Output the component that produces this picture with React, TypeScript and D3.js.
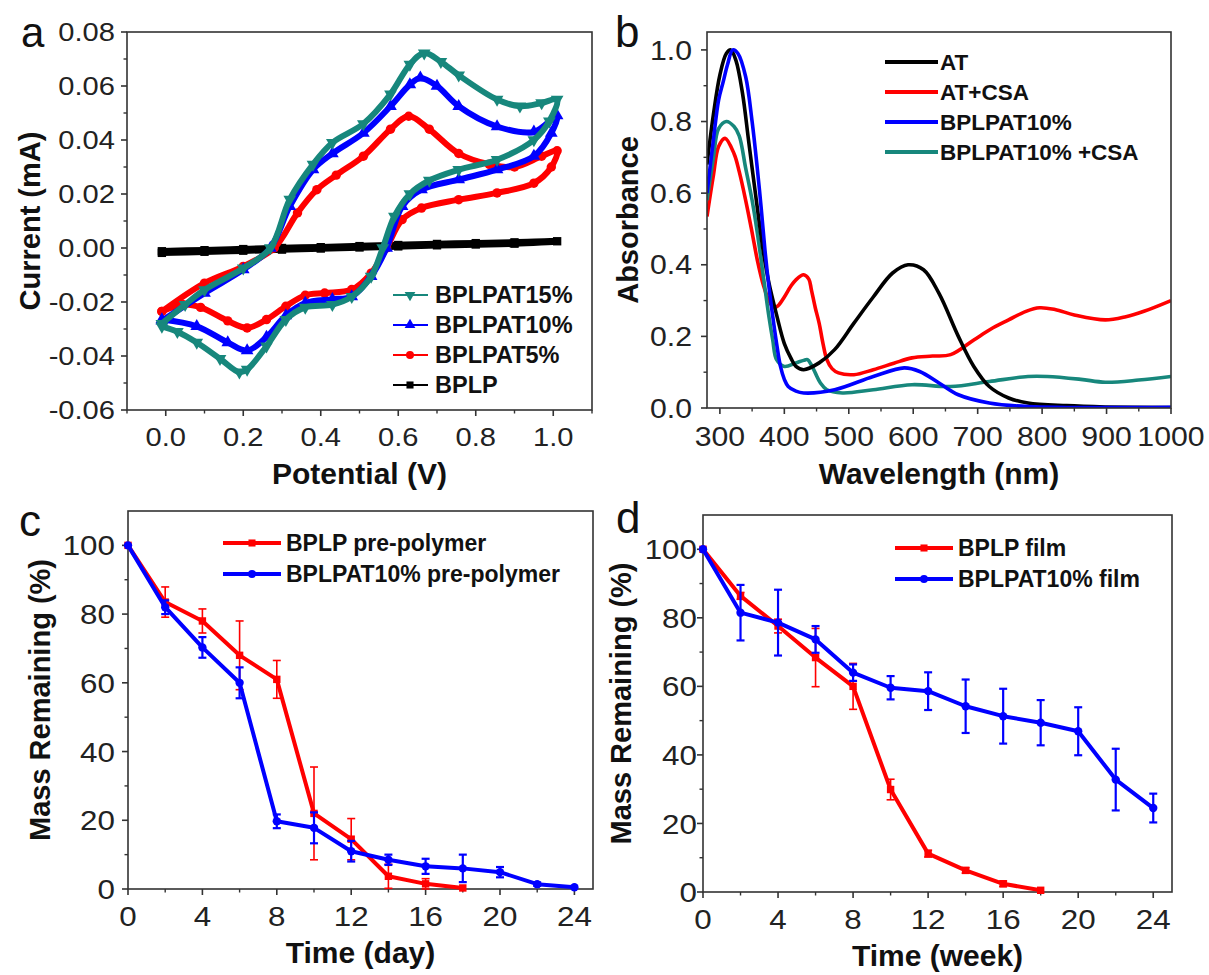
import * as d3 from "d3";

const FONT = "Arial, 'Liberation Sans', Helvetica, sans-serif";
const TEAL = "#17877c";
const BLUE = "#0000ff";
const RED = "#ff0000";

type Pt = [number, number];

// ---- panel a: cyclic voltammetry (forward scan then reverse scan)
const cvNames = ["BPLPAT15%", "BPLPAT10%", "BPLPAT5%", "BPLP"];
const cv15: Pt[] = [
  [-0.01, -0.028], [0.05, -0.021], [0.1, -0.0155], [0.2, -0.0075], [0.27, 0], [0.32, 0.018],
  [0.38, 0.031], [0.43, 0.039], [0.51, 0.046], [0.58, 0.057], [0.63, 0.068], [0.667, 0.0722],
  [0.71, 0.069], [0.756, 0.064], [0.855, 0.055], [0.914, 0.0525], [0.97, 0.0537], [1.01, 0.055],
  [0.99, 0.047], [0.95, 0.04], [0.855, 0.0327], [0.756, 0.029], [0.68, 0.025], [0.63, 0.02],
  [0.59, 0.0117], [0.56, 0], [0.53, -0.0105], [0.48, -0.018], [0.43, -0.021], [0.36, -0.022],
  [0.31, -0.0265], [0.26, -0.0364], [0.21, -0.045], [0.19, -0.046], [0.14, -0.041], [0.08, -0.035],
  [0.03, -0.031], [-0.01, -0.029],
];
const cv10: Pt[] = [
  [-0.01, -0.027], [0.1, -0.0167], [0.2, -0.008], [0.27, 0], [0.32, 0.0154], [0.38, 0.029],
  [0.43, 0.035], [0.51, 0.0426], [0.58, 0.0525], [0.63, 0.0605], [0.657, 0.063], [0.7, 0.06],
  [0.756, 0.0525], [0.855, 0.045], [0.95, 0.043], [1.01, 0.049],
  [0.995, 0.0426], [0.95, 0.034], [0.855, 0.029], [0.756, 0.0253], [0.66, 0.0216], [0.61, 0.0154],
  [0.57, 0], [0.53, -0.0105], [0.48, -0.018], [0.43, -0.019], [0.36, -0.0204], [0.31, -0.025],
  [0.26, -0.033], [0.21, -0.038], [0.16, -0.035], [0.08, -0.029], [-0.01, -0.0265],
];
const cv5: Pt[] = [
  [-0.01, -0.0235], [0.1, -0.013], [0.2, -0.0068], [0.28, 0], [0.34, 0.013], [0.39, 0.0216],
  [0.44, 0.027], [0.51, 0.034], [0.58, 0.044], [0.627, 0.0488], [0.68, 0.044], [0.756, 0.035],
  [0.835, 0.031], [0.9, 0.03], [0.97, 0.034], [1.01, 0.036],
  [0.995, 0.03], [0.95, 0.024], [0.855, 0.0204], [0.756, 0.0179], [0.66, 0.0148], [0.61, 0.0105],
  [0.57, 0], [0.53, -0.0093], [0.48, -0.0154], [0.41, -0.0167], [0.36, -0.0175], [0.31, -0.0216],
  [0.26, -0.0265], [0.21, -0.0296], [0.16, -0.027], [0.09, -0.022], [0.045, -0.021], [-0.01, -0.0235],
];
const cvBplp: Pt[] = [
  [-0.01, -0.0012], [0.1, -0.0008], [0.2, -0.0004], [0.3, 0], [0.4, 0.0003], [0.5, 0.0007],
  [0.6, 0.0011], [0.7, 0.0015], [0.8, 0.0018], [0.9, 0.0021], [1.01, 0.0025],
  [0.9, 0.0016], [0.8, 0.0013], [0.7, 0.001], [0.6, 0.0006], [0.5, 0.0002], [0.4, -0.0002],
  [0.3, -0.0006], [0.2, -0.001], [0.1, -0.0014], [-0.01, -0.0018],
];

// ---- panel b: UV-vis absorbance
const uvNames = ["AT", "AT+CSA", "BPLPAT10%", "BPLPAT10% +CSA"];
const uvAT: Pt[] = [
  [280, 0.68], [290, 0.82], [300, 0.93], [310, 0.99], [317, 1.0], [325, 0.97], [335, 0.88],
  [345, 0.74], [358, 0.56], [368, 0.43], [376, 0.35], [388, 0.26], [400, 0.18], [410, 0.14],
  [418, 0.116], [430, 0.107], [454, 0.126], [478, 0.163], [508, 0.237], [538, 0.31], [568, 0.377],
  [592, 0.4], [616, 0.386], [640, 0.32], [670, 0.2], [694, 0.116], [718, 0.06], [748, 0.028],
  [778, 0.014], [838, 0.0065], [898, 0.003], [1000, 0.001],
];
const uvATCSA: Pt[] = [
  [280, 0.535], [290, 0.65], [298, 0.73], [308, 0.753], [322, 0.71], [330, 0.66], [340, 0.58],
  [350, 0.49], [358, 0.414], [368, 0.34], [376, 0.3], [384, 0.28], [390, 0.285], [400, 0.31],
  [410, 0.34], [418, 0.358], [430, 0.372], [438, 0.36], [442, 0.33], [448, 0.28], [454, 0.237],
  [460, 0.18], [466, 0.135], [474, 0.11], [484, 0.098], [508, 0.093], [538, 0.107], [570, 0.125],
  [598, 0.14], [630, 0.145], [658, 0.149], [694, 0.19], [720, 0.22], [748, 0.246], [775, 0.27],
  [796, 0.28], [820, 0.275], [850, 0.26], [898, 0.246], [930, 0.255], [958, 0.27], [1000, 0.3],
];
const uvBPLPAT: Pt[] = [
  [280, 0.6], [290, 0.75], [298, 0.86], [305, 0.91], [312, 0.96], [320, 1.0], [328, 0.99],
  [340, 0.925], [350, 0.8], [358, 0.67], [364, 0.56], [370, 0.44], [376, 0.34], [382, 0.256],
  [388, 0.18], [394, 0.116], [400, 0.08], [406, 0.06], [418, 0.047], [430, 0.042], [478, 0.051],
  [538, 0.088], [586, 0.112], [610, 0.102], [640, 0.07], [670, 0.037], [718, 0.014], [778, 0.004],
  [1000, 0.002],
];
const uvBPLPATCSA: Pt[] = [
  [280, 0.58], [290, 0.7], [298, 0.78], [310, 0.8], [322, 0.786], [330, 0.76], [340, 0.67],
  [350, 0.58], [358, 0.49], [368, 0.36], [376, 0.256], [382, 0.19], [388, 0.135], [400, 0.116],
  [418, 0.126], [430, 0.133], [436, 0.135], [442, 0.12], [448, 0.098], [456, 0.07], [466, 0.051],
  [490, 0.042], [538, 0.051], [598, 0.065], [658, 0.06], [718, 0.074], [778, 0.088], [808, 0.088],
  [860, 0.08], [898, 0.072], [950, 0.078], [1000, 0.088],
];

// ---- panel c: pre-polymer degradation (days)
const dayTimes = [0, 2, 4, 6, 8, 10, 12, 14, 16, 18, 20, 22, 24];
const preBplp = [100, 83.5, 78, 68, 61, 22, 14.5, 3.7, 1.5, 0.3];
const preBplpErr = [0, 4.4, 3.5, 10, 5.5, 13.5, 6, 3.5, 1.5, 0];
const preAT = [100, 82, 70.3, 60, 19.7, 17.8, 11, 8.5, 6.6, 6, 4.9, 1.4, 0.5];
const preATErr = [0, 2, 3, 4.5, 2, 4.5, 3, 1.5, 2.2, 4, 1.5, 0.5, 0];

// ---- panel d: film degradation (weeks)
const weekTimes = [0, 2, 4, 6, 8, 10, 12, 14, 16, 18, 20, 22, 24];
const filmBplp = [100, 86.4, 77.6, 68.4, 60, 29.9, 11.2, 6.3, 2.4, 0.5];
const filmBplpErr = [0, 1, 2, 8.5, 6.7, 3, 1, 0.8, 0.8, 0];
const filmAT = [100, 81.5, 78.6, 73.7, 64, 59.6, 58.6, 54.2, 51.3, 49.4, 46.9, 32.8, 24.5];
const filmATErr = [0, 8.1, 9.6, 3.9, 2.4, 3.4, 5.5, 7.8, 8, 6.6, 7, 9, 4.2];

const massNames = ["BPLP pre-polymer", "BPLPAT10% pre-polymer"];
const filmNames = ["BPLP film", "BPLPAT10% film"];

const fmtSigned = (d: number) => (d < 0 ? "-" : "") + Math.abs(d).toFixed(2);

type AxesProps = {
  xs: d3.ScaleLinear<number, number>;
  ys: d3.ScaleLinear<number, number>;
  xTicks: number[];
  xMinor: number[];
  yTicks: number[];
  yMinor: number[];
  fx: (d: number) => string;
  fy: (d: number) => string;
  fs: number;
  xLabY: number;
  yLabX: number;
  xTitle: string;
  yTitle: string;
  xTitleY: number;
  yTitleX: number;
};

// tick labels in the figure are drawn a little wider than plain Arial
const SX = 1.12;

function Axes(p: AxesProps) {
  const [x0, x1] = p.xs.range();
  const [yb, yt] = p.ys.range();
  const stroke = "#333";
  return (
    <g fontFamily={FONT}>
      <rect x={x0} y={yt} width={x1 - x0} height={yb - yt} fill="none" stroke={stroke} strokeWidth={1.6} />
      {p.xTicks.map((t) => (
        <g key={"xt" + t}>
          <line x1={p.xs(t)} x2={p.xs(t)} y1={yb} y2={yb + 6} stroke={stroke} strokeWidth={1.6} />
          <text
            transform={`translate(${p.xs(t)},${p.xLabY}) scale(${SX},1)`}
            textAnchor="middle"
            fontSize={p.fs}
            fill="#222"
          >
            {p.fx(t)}
          </text>
        </g>
      ))}
      {p.xMinor.map((t) => (
        <line key={"xm" + t} x1={p.xs(t)} x2={p.xs(t)} y1={yb} y2={yb + 3.5} stroke={stroke} strokeWidth={1.4} />
      ))}
      {p.yTicks.map((t) => (
        <g key={"yt" + t}>
          <line x1={x0 - 6} x2={x0} y1={p.ys(t)} y2={p.ys(t)} stroke={stroke} strokeWidth={1.6} />
          <text
            transform={`translate(${p.yLabX},${p.ys(t)}) scale(${SX},1)`}
            dy="0.36em"
            textAnchor="end"
            fontSize={p.fs}
            fill="#222"
          >
            {p.fy(t)}
          </text>
        </g>
      ))}
      {p.yMinor.map((t) => (
        <line key={"ym" + t} x1={x0 - 3.5} x2={x0} y1={p.ys(t)} y2={p.ys(t)} stroke={stroke} strokeWidth={1.4} />
      ))}
      <text x={(x0 + x1) / 2} y={p.xTitleY} textAnchor="middle" fontSize={30} fontWeight="bold" fill="#111">
        {p.xTitle}
      </text>
      <text
        transform={`translate(${p.yTitleX},${(yb + yt) / 2}) rotate(-90)`}
        textAnchor="middle"
        fontSize={29}
        fontWeight="bold"
        fill="#111"
      >
        {p.yTitle}
      </text>
    </g>
  );
}

function Marker({ shape, x, y, color, size }: { shape: string; x: number; y: number; color: string; size: number }) {
  const type =
    shape === "square" ? d3.symbolSquare : shape === "circle" ? d3.symbolCircle : d3.symbolTriangle;
  const d = d3.symbol().type(type).size(size)() as string;
  const rot = shape === "down" ? " rotate(180)" : "";
  return <path d={d} transform={`translate(${x},${y})${rot}`} fill={color} />;
}

function PanelA() {
  const xs = d3.scaleLinear().domain([-0.1, 1.1]).range([127, 592]);
  const ys = d3.scaleLinear().domain([-0.06, 0.08]).range([410, 32]);
  const line = d3
    .line<Pt>()
    .x((d) => xs(d[0]))
    .y((d) => ys(d[1]))
    .curve(d3.curveCatmullRom.alpha(0.5));
  const series = [
    { data: cvBplp, color: "#000", shape: "square" },
    { data: cv5, color: RED, shape: "circle" },
    { data: cv10, color: BLUE, shape: "up" },
    { data: cv15, color: TEAL, shape: "down" },
  ];
  const legend = [
    { color: TEAL, shape: "down" },
    { color: BLUE, shape: "up" },
    { color: RED, shape: "circle" },
    { color: "#000", shape: "square" },
  ];
  return (
    <g>
      <Axes
        xs={xs}
        ys={ys}
        xTicks={[0, 0.2, 0.4, 0.6, 0.8, 1.0]}
        xMinor={[-0.1, 0.1, 0.3, 0.5, 0.7, 0.9, 1.1]}
        yTicks={[-0.06, -0.04, -0.02, 0, 0.02, 0.04, 0.06, 0.08]}
        yMinor={[-0.05, -0.03, -0.01, 0.01, 0.03, 0.05, 0.07]}
        fx={(d) => d.toFixed(1)}
        fy={fmtSigned}
        fs={26}
        xLabY={446}
        yLabX={115}
        xTitle="Potential (V)"
        yTitle="Current (mA)"
        xTitleY={484}
        yTitleX={40}
      />
      {series.map((s, i) => (
        <g key={i}>
          <path
            d={line(s.data) as string}
            fill="none"
            stroke={s.color}
            strokeWidth={i === 0 ? 6.5 : 6}
            strokeLinejoin="round"
          />
          {s.data.map((d, j) => (
            <Marker key={j} shape={s.shape} x={xs(d[0])} y={ys(d[1])} color={s.color} size={70} />
          ))}
        </g>
      ))}
      {legend.map((l, i) => {
        const y = 295 + i * 30;
        return (
          <g key={i}>
            <line x1={393} x2={428} y1={y} y2={y} stroke={l.color} strokeWidth={1.8} />
            <Marker shape={l.shape} x={410} y={y} color={l.color} size={50} />
            <text x={435} y={y} dy="0.36em" fontFamily={FONT} fontWeight="bold" fontSize={23.5} fill="#111">
              {cvNames[i]}
            </text>
          </g>
        );
      })}
      <text x={21} y={47} fontFamily={FONT} fontSize={42} fill="#111">a</text>
    </g>
  );
}

function PanelB() {
  const xs = d3.scaleLinear().domain([280, 1000]).range([707, 1171]);
  const ys = d3.scaleLinear().domain([0, 1.05]).range([408, 32]);
  const line = d3
    .line<Pt>()
    .x((d) => xs(d[0]))
    .y((d) => ys(d[1]))
    .curve(d3.curveCatmullRom.alpha(0.5));
  const series = [
    { data: uvATCSA, color: RED },
    { data: uvBPLPATCSA, color: TEAL },
    { data: uvAT, color: "#000" },
    { data: uvBPLPAT, color: BLUE },
  ];
  const legendColors = ["#000", RED, BLUE, TEAL];
  return (
    <g>
      <defs>
        <clipPath id="clipB">
          <rect x={707} y={32} width={464} height={376} />
        </clipPath>
      </defs>
      <g clipPath="url(#clipB)">
        {series.map((s, i) => (
          <path key={i} d={line(s.data) as string} fill="none" stroke={s.color} strokeWidth={3.6} strokeLinejoin="round" />
        ))}
      </g>
      <Axes
        xs={xs}
        ys={ys}
        xTicks={[300, 400, 500, 600, 700, 800, 900, 1000]}
        xMinor={[350, 450, 550, 650, 750, 850, 950]}
        yTicks={[0, 0.2, 0.4, 0.6, 0.8, 1.0]}
        yMinor={[0.1, 0.3, 0.5, 0.7, 0.9]}
        fx={(d) => String(d)}
        fy={(d) => d.toFixed(1)}
        fs={27}
        xLabY={446}
        yLabX={692}
        xTitle="Wavelength (nm)"
        yTitle="Absorbance"
        xTitleY={484}
        yTitleX={638}
      />
      {legendColors.map((c, i) => {
        const y = 62 + i * 30;
        return (
          <g key={i}>
            <line x1={885} x2={938} y1={y} y2={y} stroke={c} strokeWidth={4} />
            <text x={940} y={y} dy="0.36em" fontFamily={FONT} fontWeight="bold" fontSize={22.5} fill="#111">
              {uvNames[i]}
            </text>
          </g>
        );
      })}
      <text x={615} y={47} fontFamily={FONT} fontSize={44} fill="#111">b</text>
    </g>
  );
}

type MassProps = {
  letter: string;
  letterX: number;
  letterY: number;
  xRange: [number, number];
  yRange: [number, number];
  times: number[];
  red: number[];
  redErr: number[];
  blue: number[];
  blueErr: number[];
  names: string[];
  xTitle: string;
  yLabX: number;
  yTitleX: number;
  xLabY: number;
  xTitleY: number;
  legX: number;
  legY: number;
};

function MassPanel(p: MassProps) {
  const xs = d3.scaleLinear().domain([0, 25]).range(p.xRange);
  const ys = d3.scaleLinear().domain([0, 110]).range(p.yRange);
  const line = d3
    .line<number>()
    .x((_, i) => xs(p.times[i]))
    .y((d) => ys(d));
  const series = [
    { v: p.red, e: p.redErr, color: RED, shape: "square", ew: 1.6 },
    { v: p.blue, e: p.blueErr, color: BLUE, shape: "circle", ew: 2.2 },
  ];
  return (
    <g>
      <Axes
        xs={xs}
        ys={ys}
        xTicks={[0, 4, 8, 12, 16, 20, 24]}
        xMinor={[2, 6, 10, 14, 18, 22]}
        yTicks={[0, 20, 40, 60, 80, 100]}
        yMinor={[10, 30, 50, 70, 90]}
        fx={(d) => String(d)}
        fy={(d) => String(d)}
        fs={28}
        xLabY={p.xLabY}
        yLabX={p.yLabX}
        xTitle={p.xTitle}
        yTitle="Mass Remaining (%)"
        xTitleY={p.xTitleY}
        yTitleX={p.yTitleX}
      />
      {series.map((s, k) => (
        <g key={k}>
          {s.v.map((d, i) =>
            s.e[i] > 0 ? (
              <g key={"e" + i} stroke={s.color} strokeWidth={s.ew}>
                <line x1={xs(p.times[i])} x2={xs(p.times[i])} y1={ys(d - s.e[i])} y2={ys(d + s.e[i])} />
                <line x1={xs(p.times[i]) - 4} x2={xs(p.times[i]) + 4} y1={ys(d - s.e[i])} y2={ys(d - s.e[i])} />
                <line x1={xs(p.times[i]) - 4} x2={xs(p.times[i]) + 4} y1={ys(d + s.e[i])} y2={ys(d + s.e[i])} />
              </g>
            ) : null
          )}
          <path d={line(s.v) as string} fill="none" stroke={s.color} strokeWidth={4} strokeLinejoin="round" />
          {s.v.map((d, i) => (
            <Marker key={i} shape={s.shape} x={xs(p.times[i])} y={ys(d)} color={s.color} size={55} />
          ))}
        </g>
      ))}
      {series.map((s, k) => {
        const y = p.legY + k * 31;
        return (
          <g key={"l" + k}>
            <line x1={p.legX} x2={p.legX + 58} y1={y} y2={y} stroke={s.color} strokeWidth={4} />
            <Marker shape={s.shape} x={p.legX + 29} y={y} color={s.color} size={50} />
            <text x={p.legX + 63} y={y} dy="0.36em" fontFamily={FONT} fontWeight="bold" fontSize={23} fill="#111">
              {p.names[k]}
            </text>
          </g>
        );
      })}
      <text x={p.letterX} y={p.letterY} fontFamily={FONT} fontSize={44} fill="#111">
        {p.letter}
      </text>
    </g>
  );
}

export default function App() {
  return (
    <svg
      width={1209}
      height={975}
      viewBox="0 0 1209 975"
      style={{ position: "absolute", left: 0, top: 0, background: "#fff" }}
    >
      <rect width={1209} height={975} fill="#fff" />
      <PanelA />
      <PanelB />
      <MassPanel
        letter="c"
        letterX={19}
        letterY={536}
        xRange={[128, 593]}
        yRange={[889, 511]}
        times={dayTimes}
        red={preBplp}
        redErr={preBplpErr}
        blue={preAT}
        blueErr={preATErr}
        names={massNames}
        xTitle="Time (day)"
        yLabX={115}
        yTitleX={50}
        xLabY={926}
        xTitleY={963}
        legX={223}
        legY={543}
      />
      <MassPanel
        letter="d"
        letterX={616}
        letterY={533}
        xRange={[703, 1172]}
        yRange={[892, 515]}
        times={weekTimes}
        red={filmBplp}
        redErr={filmBplpErr}
        blue={filmAT}
        blueErr={filmATErr}
        names={filmNames}
        xTitle="Time (week)"
        yLabX={697}
        yTitleX={631}
        xLabY={929}
        xTitleY={966}
        legX={895}
        legY={548}
      />
    </svg>
  );
}
